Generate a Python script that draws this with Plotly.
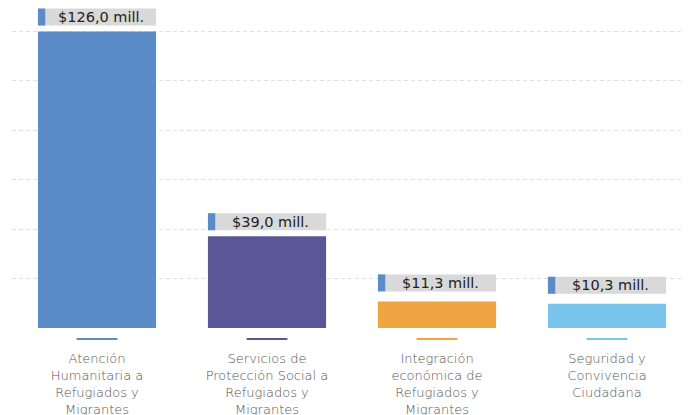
import plotly.graph_objects as go

categories = [
    "Atención<br>Humanitaria a<br>Refugiados y<br>Migrantes",
    "Servicios de<br>Protección Social a<br>Refugiados y<br>Migrantes",
    "Integración<br>económica de<br>Refugiados y<br>Migrantes",
    "Seguridad y<br>Convivencia<br>Ciudadana",
]
values = [126.0, 39.0, 11.3, 10.3]
colors = ["#5b8cc8", "#5a5797", "#eda441", "#78c4ea"]
labels = ["$" + f"{v:.1f}".replace(".", ",") + " mill." for v in values]
label_gap_px = [6, 6, 10, 10]

x_idx = list(range(len(categories)))

fig = go.Figure()
fig.add_trace(go.Bar(
    x=x_idx, y=values,
    marker=dict(color=colors, line=dict(width=0)),
    width=0.695,
    hoverinfo="skip",
))

plot_h = 320
box_h = 17
shapes = []
annotations = []
half = 0.695 / 2
for i, v in enumerate(values):
    g = label_gap_px[i]
    shapes.append(dict(type="rect", xref="x", yref="y", x0=i - half, x1=i + half,
                       ysizemode="pixel", yanchor=v, y0=g, y1=g + box_h,
                       fillcolor="#d9d9d9", line=dict(width=0), layer="above"))
    shapes.append(dict(type="rect", xref="x", yref="y", x0=i - half, x1=i - half + 0.043,
                       ysizemode="pixel", yanchor=v, y0=g, y1=g + box_h,
                       fillcolor="#5b8cc8", line=dict(width=0), layer="above"))
    shapes.append(dict(type="line", xref="x", yref="paper", x0=i - 0.12, x1=i + 0.12,
                       y0=-11 / plot_h, y1=-11 / plot_h,
                       line=dict(color=colors[i], width=2)))
    annotations.append(dict(x=i + 0.0215, y=v, xref="x", yref="y", yshift=g + box_h / 2,
                            text=labels[i], showarrow=False,
                            font=dict(family="DejaVu Sans", size=14.5, color="#222"),
                            xanchor="center", yanchor="middle"))

fig.update_layout(
    width=691, height=415,
    margin=dict(l=4, r=7, t=0, b=95, autoexpand=False),
    paper_bgcolor="white", plot_bgcolor="white",
    showlegend=False,
    shapes=shapes, annotations=annotations,
    xaxis=dict(tickmode="array", tickvals=x_idx, ticktext=categories,
               range=[-0.5, 3.5], showgrid=False, showline=False, zeroline=False,
               ticks="", ticklabelstandoff=21, automargin=False,
               tickfont=dict(family="DejaVu Sans", size=13, color="#555", weight=200)),
    yaxis=dict(range=[0, 136], tickmode="array", tickvals=[0, 21, 42, 63, 84, 105, 126],
               showticklabels=False, zeroline=False, automargin=False,
               showgrid=True, gridcolor="#e0e0e0", griddash="4px,3px", gridwidth=1,
               showline=False),
)

fig.write_html("out.html")
